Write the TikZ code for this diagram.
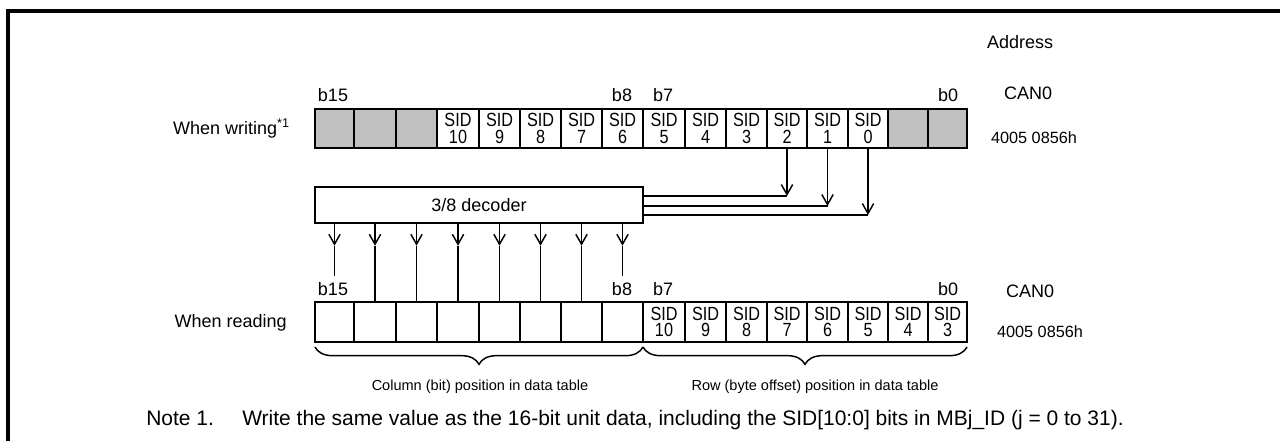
\documentclass[tikz,border=0pt]{standalone}
\usepackage{fontspec}
\setmainfont{Liberation Sans}
\newfontfamily\condfont{Liberation Sans}[FakeStretch=0.85]
\usetikzlibrary{arrows.meta,decorations.pathreplacing}
\definecolor{cellgray}{RGB}{192,192,192}
\begin{document}
\begin{tikzpicture}[x=0.75pt,y=-0.75pt,
  cell/.style={draw=black, line width=1.1pt, inner sep=0pt,
    align=center, font=\condfont\fontsize{14.3}{12.5}\selectfont},
  toprow/.style={cell, minimum height=29.25pt},
  botrow/.style={cell, minimum height=30pt},
  graycell/.style={fill=cellgray},
  lbl/.style={inner sep=0pt, font=\fontsize{13.5}{16}\selectfont},
  addr/.style={inner sep=0pt, font=\fontsize{12.2}{14}\selectfont},
  small/.style={inner sep=0pt, font=\fontsize{10.9}{13}\selectfont},
  notefont/.style={inner sep=0pt, font=\fontsize{15.75}{18}\selectfont},
  conn/.style={line width=1.1pt},
  arr/.style={conn, -{Straight Barb[length=7.5pt,width=8.5pt]}},
  bracestyle/.style={line width=1.1pt, decorate, decoration={brace, amplitude=13pt}},
  decbox/.style={draw=black, line width=1.1pt, minimum width=246pt, minimum height=27pt,
    inner sep=0pt, font=\fontsize{13.5}{16}\selectfont}
]
\useasboundingbox (0,0) rectangle (1280,441);
% frame
\draw[line width=2.4pt] (8,441) -- (8,11) -- (1280,11);

% top row (when writing): index/left/right/fill/text
\foreach \i/\l/\r/\f/\s in {0/315/354/1/,1/354/396/1/,2/396/437/1/,
    3/437/479/0/10,4/479/520/0/9,5/520/561/0/8,6/561/602/0/7,7/602/643/0/6,
    8/643/685/0/5,9/685/726/0/4,10/726/767/0/3,11/767/807/0/2,12/807/848/0/1,
    13/848/888/0/0,14/888/928/1/,15/928/967/1/} {
  \pgfmathsetmacro{\cw}{(\r-\l)*0.75}
  \pgfmathsetmacro{\cx}{(\l+\r)/2}
  \ifnum\f=1
    \node[toprow, graycell, minimum width=\cw pt] (t\i) at (\cx,128.5) {};
  \else
    \node[toprow, minimum width=\cw pt] (t\i) at (\cx,128.5) {SID\\\s};
  \fi
}

% bottom row (when reading)
\foreach \i/\l/\r/\s in {0/315/354/,1/354/396/,2/396/437/,3/437/479/,
    4/479/520/,5/520/561/,6/561/602/,7/602/643/,
    8/643/685/10,9/685/726/9,10/726/767/8,11/767/807/7,12/807/848/6,
    13/848/888/5,14/888/928/4,15/928/967/3} {
  \pgfmathsetmacro{\cw}{(\r-\l)*0.75}
  \pgfmathsetmacro{\cx}{(\l+\r)/2}
  \node[botrow, minimum width=\cw pt] (r\i) at (\cx,322) {\ifx\s\empty\else SID\\\s\fi};
}

% labels
\node[lbl] (addrlbl) at (1020,42) {Address};
\node[lbl] (tb15) at (333,95) {b15};
\node[lbl] (tb8) at (622,95) {b8};
\node[lbl] (tb7) at (663,95) {b7};
\node[lbl] (tb0) at (948,95) {b0};
\node[lbl] (tcan) at (1028,93) {CAN0};
\node[addr] (taddr) at (1034,138) {4005 0856h};
\node[lbl, anchor=east] (wlbl) at (290,129) {When writing\textsuperscript{*1}};

\node[lbl] (bb15) at (333,289) {b15};
\node[lbl] (bb8) at (622,289) {b8};
\node[lbl] (bb7) at (663,289) {b7};
\node[lbl] (bb0) at (948,289) {b0};
\node[lbl] (bcan) at (1030,291) {CAN0};
\node[addr] (baddr) at (1040,332) {4005 0856h};
\node[lbl, anchor=east] (rlbl) at (287,323) {When reading};

% decoder
\node[decbox] (dec) at (479,205) {3/8 decoder};

% SID2..0 into decoder
\foreach \i/\yy in {11/196,12/206,13/215} {
  \draw[arr] (t\i.south) -- (t\i.south |- 0,\yy);
  \draw[conn] (dec.east |- 0,\yy) -- (t\i.south |- 0,\yy);
}

% decoder outputs
\foreach \i in {0,...,7} {
  \coordinate (m\i) at ([yshift=-16.5pt]dec.south -| r\i);
  \draw[arr] (dec.south -| r\i) -- (m\i);
}
\foreach \i in {1,...,6} {
  \draw[conn] (m\i) -- (r\i.north);
}
\foreach \i in {0,7} {
  \draw[conn] (m\i) -- ++(0,30);
}

% braces
\coordinate (brL) at (315,347);
\coordinate (brM) at (643,347);
\coordinate (brR) at (967,347);
\draw[bracestyle] (brM) -- (brL);
\draw[bracestyle] (brR) -- (brM);
\node[small] (collbl) at (480,387) {Column (bit) position in data table};
\node[small] (rowlbl) at (815,387) {Row (byte offset) position in data table};

% note
\node[notefont, anchor=base west] (note1) at (146,425) {Note 1.};
\node[notefont, anchor=base west] (note2) at (242,425) {Write the same value as the 16-bit unit data, including the SID[10:0] bits in MBj\_ID (j = 0 to 31).};
\end{tikzpicture}
\end{document}
